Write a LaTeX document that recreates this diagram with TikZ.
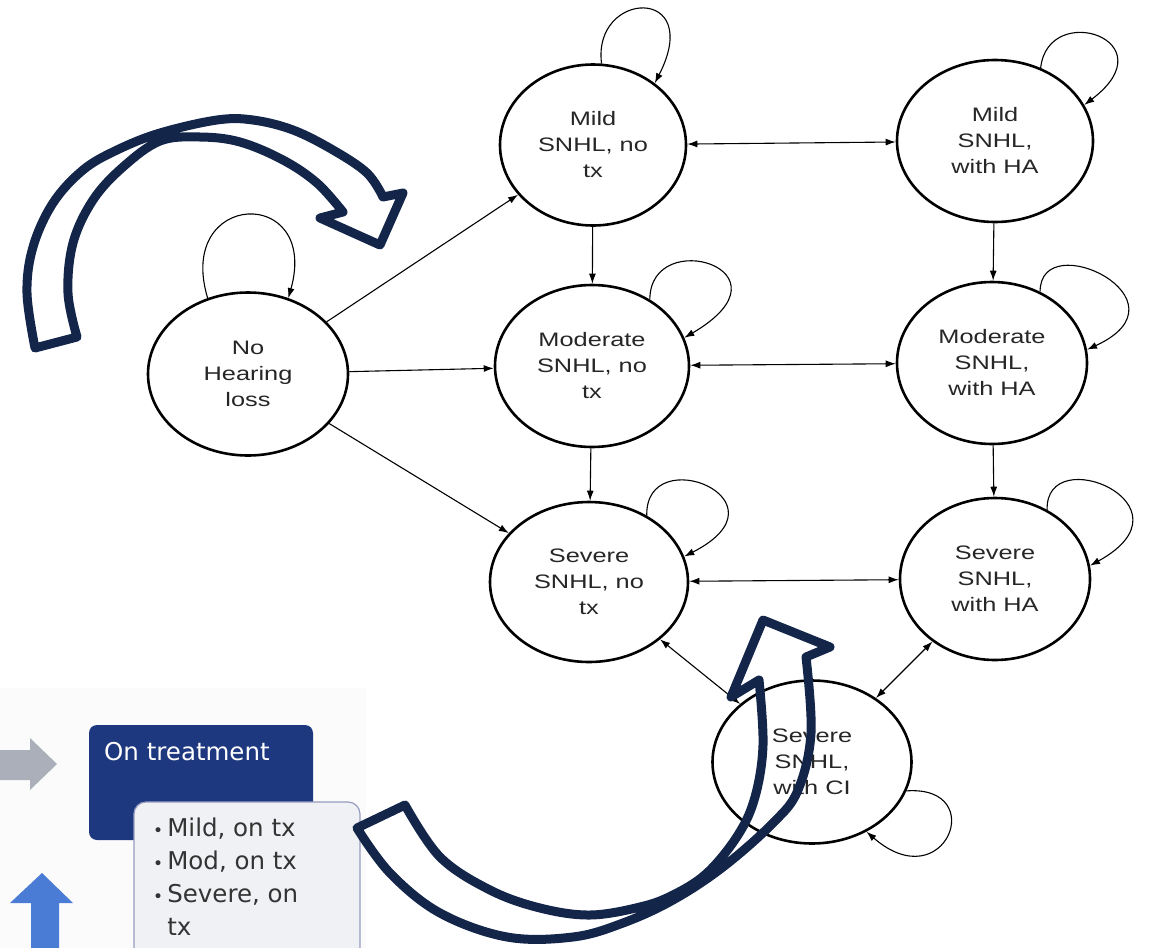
\documentclass[tikz,border=0pt]{standalone}
\usepackage{fontspec}
\newfontfamily\statefont[FakeStretch=1.3]{Liberation Sans}
\newfontfamily\panelfont{DejaVu Sans}
\usetikzlibrary{arrows.meta,shapes.geometric}
\definecolor{navyarrow}{RGB}{19,37,73}
\definecolor{boxblue}{RGB}{30,56,128}
\definecolor{listfill}{RGB}{240,241,245}
\definecolor{listedge}{RGB}{150,156,192}
\definecolor{greyarrow}{RGB}{170,175,186}
\definecolor{bluearrow}{RGB}{74,124,214}

\tikzset{
  state/.style={ellipse, draw, line width=2.6pt, align=center, inner sep=0pt,
    minimum width=196pt, minimum height=162pt, text=black!85,
    font=\statefont\fontsize{19.5}{26}\selectfont},
  trans/.style={->, line width=1.1pt},
  both/.style={<->, line width=1.1pt},
  bigarrow/.style={draw=navyarrow, line width=9pt, line join=round},
  paneltext/.style={font=\panelfont\fontsize{24.5}{33}\selectfont}
}
\newcommand{\listdot}{{\fontsize{17}{17}\selectfont•}\,}

\begin{document}
\begin{tikzpicture}[x=1pt,y=1pt,>={Latex[length=10pt,width=7pt]}]
  \useasboundingbox (0,0) rectangle (1173,-948);

  % pasted panel, lower left
  \fill[black!1.5] (0,-688) rectangle (366,-948);
  \fill[greyarrow] (0,-750) -- (30,-750) -- (30,-738) -- (57,-764)
    -- (30,-790) -- (30,-780) -- (0,-780) -- cycle;
  \fill[bluearrow] (31,-948) -- (31,-903) -- (10,-903) -- (42,-873)
    -- (73,-903) -- (59,-903) -- (59,-948) -- cycle;
  \fill[boxblue, rounded corners=8pt] (89,-725) rectangle (313,-840);
  \node[paneltext, text=white, anchor=base west, inner sep=0pt] (treat)
    at (104,-760) {On treatment};
  \draw[listedge, fill=listfill, line width=1.2pt, rounded corners=12pt]
    (134,-802) rectangle (360,-980);
  \node[paneltext, text=black!80, anchor=north west, align=left, inner sep=0pt] (txlist)
    at (153,-818) {\listdot Mild, on tx\\ \listdot Mod, on tx\\
    \listdot Severe, on\\ \hphantom{\listdot}tx};

  % states
  \node[state, minimum width=200pt, minimum height=163pt] (nohl) at (248,-374) {No\\Hearing\\loss};
  \node[state, minimum width=186pt, minimum height=161pt] (mildno) at (593,-145) {Mild\\SNHL, no\\tx};
  \node[state] (mildha) at (995,-141) {Mild\\SNHL,\\with HA};
  \node[state, minimum width=194pt] (modno) at (592,-366) {Moderate\\SNHL, no\\tx};
  \node[state, minimum width=190pt] (modha) at (992,-363) {Moderate\\SNHL,\\with HA};
  \node[state, minimum width=198pt, minimum height=160pt] (sevno) at (589,-582) {Severe\\SNHL, no\\tx};
  \node[state, minimum width=190pt] (sevha) at (995,-579) {Severe\\SNHL,\\with HA};
  \node[state, minimum width=199pt, minimum height=163pt] (sevci) at (812,-762) {Severe\\SNHL,\\with CI};

  % transitions
  \draw[trans] (nohl) -- (mildno);
  \draw[trans] (nohl) -- (modno);
  \draw[trans] (nohl) -- (sevno);
  \draw[both] (mildno) -- (mildha);
  \draw[both] (modno) -- (modha);
  \draw[both] (sevno) -- (sevha);
  \draw[trans] (mildno) -- (modno);
  \draw[trans] (modno) -- (sevno);
  \draw[trans] (mildha) -- (modha);
  \draw[trans] (modha) -- (sevha);
  \draw[both] (sevno) -- (sevci);
  \draw[both] (sevha) -- (sevci);

  % staying in the same state
  \draw[trans] (nohl.118) .. controls (175,-190) and (320,-185) .. (nohl.62);
  \draw[trans] (mildno.84) .. controls (592,10) and (705,15) .. (mildno.45);
  \draw[trans] (mildha.58) .. controls (1048,0) and (1170,-40) .. (mildha.22);
  \draw[trans] (modno.49) .. controls (650,-225) and (800,-270) .. (modno.17);
  \draw[trans] (modha.56) .. controls (1040,-225) and (1195,-300) .. (modha.8);
  \draw[trans] (sevno.49) .. controls (645,-440) and (795,-500) .. (sevno.15);
  \draw[trans] (sevha.53) .. controls (1045,-440) and (1200,-505) .. (sevha.8);
  \draw[trans] (sevci.-17) .. controls (990,-785) and (945,-900) .. (sevci.-52);

  % big curved arrows on top
  \draw[bigarrow] plot[smooth, tension=0.6] coordinates {(35,-348) (27,-293) (33,-247)
      (53,-203) (83,-170) (117,-150) (160,-133) (217,-120) (253,-120) (293,-130)
      (333,-150) (367,-173) (383,-197)}
    -- (403,-193) -- (380,-245) -- (320,-218)
    -- plot[smooth, tension=0.6] coordinates {(343,-212) (317,-183) (283,-160)
      (240,-142) (200,-137) (160,-141) (123,-167) (93,-200) (73,-243) (68,-293) (77,-337)}
    -- cycle;
  \draw[bigarrow] plot[smooth, tension=0.6] coordinates {(357,-828) (390,-873) (440,-913)
      (507,-937) (573,-937) (623,-923) (673,-900) (723,-867) (773,-823) (798,-790)
      (811,-733) (806,-657)}
    -- (830,-647) -- (763,-620) -- (731,-697)
    -- plot[smooth, tension=0.6] coordinates {(759,-680) (763,-745) (755,-797)
      (738,-835) (707,-873) (673,-895) (640,-907) (590,-915) (540,-908) (490,-890)
      (440,-857) (405,-805)}
    -- cycle;
\end{tikzpicture}
\end{document}
